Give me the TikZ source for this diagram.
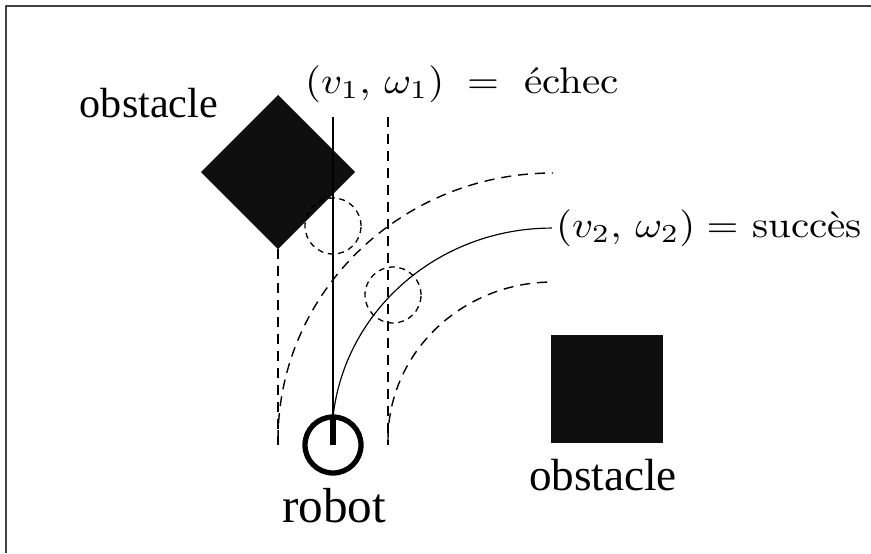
\documentclass[tikz,border=0pt]{standalone}
\usepackage{fontspec}
\newfontfamily\obsfont{Liberation Serif}
\usetikzlibrary{shapes.geometric,positioning}
\newcommand\wide[1]{\scalebox{3.5}[3.16]{#1}}
\begin{document}
\begin{tikzpicture}[x=0.03cm,y=-0.03cm,line join=round,
	obst/.style={fill=black!94,inner sep=0pt,outer sep=0pt},
	txt/.style={font=\obsfont\fontsize{#1}{40}\selectfont,inner sep=0pt,anchor=base},
	txt/.default=36,
	lbl/.style={inner sep=0pt,anchor=base west},
	trace/.style={line width=1.2pt,dash pattern=on 8.5pt off 6pt},
	ghost/.style={circle,draw,line width=1.1pt,dash pattern=on 5pt off 4pt,minimum size=1.68cm,inner sep=0pt}]
	\useasboundingbox (0,0) rectangle (871,553);
	\draw[line width=2.4pt,black!75] (6,553) -- (6,6) -- (871,6); % cadre
	% obstacles
	\node[obst,diamond,minimum width=4.62cm,minimum height=4.62cm] (obsA) at (278,172) {};
	\node[obst,minimum width=3.36cm,minimum height=3.24cm] (obsB) at (607,389) {};
	\node[txt] (nameA) at (149,117) {obstacle};
	\node[txt=38.5] (nameB) at (603,490) {obstacle};
	% robot
	\node[circle,draw,line width=4.5pt,minimum size=1.68cm,inner sep=0pt,outer sep=0pt] (robot) at (333,445) {};
	\node[txt=42] (nameR) at (334,522) {robot};
	\coordinate (top1) at (333,117);
	\coordinate (topR) at (388,117);
	\coordinate (botL) at (278,445);
	\coordinate (botR) at (388,445);
	% trajectoire droite
	\draw[line width=1.3pt] (top1) -- (robot.north);
	\draw[line width=5pt] (robot.north) -- (robot.center);
	\draw[trace] (obsA.south) -- (botL);
	\draw[trace] (topR) -- (botR);
	% trajectoire courbe
	\draw[line width=1pt] (robot.north) arc[start angle=186,end angle=270,x radius=220,y radius=211] coordinate (end2);
	\draw[trace] (278,440) arc[start angle=180,end angle=270,x radius=275,y radius=267];
	\draw[trace] (388,440) arc[start angle=180,end angle=270,x radius=165,y radius=158];
	\node[ghost] (hit1) at (333,226) {};
	\node[ghost] (hit2) at (393,295) {};
	% etiquettes
	\node[lbl] (fail) at (305,93) {\wide{$(v_1,\,\omega_1)\;=\;$ échec}};
	\node[lbl] (ok) at (556,237) {\wide{$(v_2,\,\omega_2) = $ succès}};
\end{tikzpicture}
\end{document}
